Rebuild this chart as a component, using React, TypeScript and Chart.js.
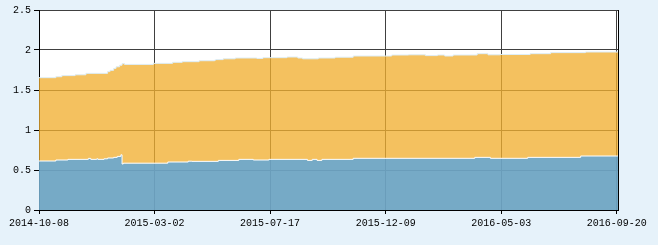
import React, { useEffect, useRef } from "react";
import { Chart, registerables } from "chart.js";

Chart.register(...registerables);

// x axis: trading-day index; labelled ticks
const xTickIndex = [0, 96, 192, 288, 384, 480];
const xTickLabels = ["2014-10-08", "2015-03-02", "2015-07-17", "2015-12-09", "2016-05-03", "2016-09-20"];
const xMaxIndex = 481;

// y axis tick values
const yTicks = [0, 0.5, 1, 1.5, 2, 2.5];

// Top of the yellow area (cumulative total) — change points [index, value]
const totalIdx = [0, 14, 19, 30, 39, 57, 59, 62, 64, 67, 69, 71, 95, 111, 119, 133, 146, 147, 153, 163, 181, 186, 206, 215, 219, 232, 246, 261, 293, 307, 321, 331, 337, 344, 364, 373, 383, 408, 425, 454, 481];
const totalVal = [1.654, 1.666, 1.68, 1.69, 1.708, 1.73, 1.746, 1.77, 1.79, 1.81, 1.83, 1.82, 1.833, 1.846, 1.854, 1.866, 1.875, 1.88, 1.89, 1.9, 1.895, 1.904, 1.9125, 1.9, 1.89, 1.9, 1.91, 1.925, 1.9375, 1.94, 1.93, 1.9375, 1.925, 1.9375, 1.954, 1.94, 1.944, 1.954, 1.967, 1.975, 1.975];

// Top of the blue area — change points [index, value]
const blueIdx = [0, 14, 24, 41, 43, 48, 49, 54, 57, 62, 65, 68, 69, 70, 107, 124, 127, 149, 166, 178, 191, 223, 227, 231, 235, 261, 362, 375, 406, 450, 481];
const blueVal = [0.6125, 0.625, 0.633, 0.645, 0.633, 0.64, 0.633, 0.64, 0.65, 0.658, 0.67, 0.69, 0.575, 0.585, 0.6, 0.61, 0.608, 0.62, 0.633, 0.625, 0.633, 0.62, 0.633, 0.62, 0.633, 0.646, 0.658, 0.646, 0.658, 0.675, 0.675];

const PAGE_BG = "#E6F2FA";

export default function App() {
  const ref = useRef<HTMLCanvasElement | null>(null);

  useEffect(() => {
    if (!ref.current) return;
    const bgPlugin = {
      id: "bgPlugin",
      beforeDraw(chart: any) {
        const { ctx, chartArea } = chart;
        ctx.save();
        ctx.fillStyle = PAGE_BG;
        ctx.fillRect(0, 0, chart.width, chart.height);
        ctx.fillStyle = "#ffffff";
        ctx.fillRect(chartArea.left, chartArea.top, chartArea.right - chartArea.left, chartArea.bottom - chartArea.top);
        ctx.restore();
      },
      afterDraw(chart: any) {
        const { ctx, chartArea } = chart;
        ctx.save();
        ctx.strokeStyle = "#000";
        ctx.lineWidth = 1;
        ctx.beginPath();
        ctx.moveTo(chartArea.right + 0.5, chartArea.top);
        ctx.lineTo(chartArea.right + 0.5, chartArea.bottom + 1);
        ctx.stroke();
        ctx.restore();
      },
    };

    const chart = new Chart(ref.current, {
      type: "line",
      data: {
        datasets: [
          {
            label: "blue",
            data: blueIdx.map((x, i) => ({ x, y: blueVal[i] })),
            stepped: true,
            borderColor: "#ffffff",
            borderWidth: 1,
            backgroundColor: "rgba(69,161,238,0.72)",
            fill: "origin",
            pointRadius: 0,
          },
          {
            label: "total",
            data: totalIdx.map((x, i) => ({ x, y: totalVal[i] })),
            stepped: true,
            borderColor: "#DDEEF8",
            borderWidth: 1,
            backgroundColor: "rgba(241,174,47,0.77)",
            fill: "origin",
            pointRadius: 0,
          },
        ],
      },
      options: {
        responsive: false,
        animation: false,
        devicePixelRatio: 1,
        layout: { padding: { left: 0, top: 10, right: 40, bottom: 0 } },
        plugins: { legend: { display: false }, tooltip: { enabled: false } },
        scales: {
          x: {
            type: "linear",
            min: 0,
            max: xMaxIndex,
            afterFit(s: any) {
              s.height = 35;
            },
            afterBuildTicks(axis: any) {
              axis.ticks = xTickIndex.map((v) => ({ value: v }));
            },
            grid: { color: "#404040", tickColor: "#000", tickLength: 4, lineWidth: 1 },
            border: { color: "#000", width: 1 },
            ticks: {
              autoSkip: false,
              maxRotation: 0,
              padding: 3,
              color: "#000",
              font: { family: "'Liberation Mono', monospace", size: 10 },
              callback: (v: any) => {
                const i = xTickIndex.indexOf(Number(v));
                return i >= 0 ? xTickLabels[i] : "";
              },
            },
          },
          y: {
            min: 0,
            max: 2.5,
            afterFit(s: any) {
              s.width = 39;
            },
            afterBuildTicks(axis: any) {
              axis.ticks = yTicks.map((v) => ({ value: v }));
            },
            grid: { color: "#404040", tickColor: "#000", tickLength: 5, lineWidth: 1 },
            border: { color: "#000", width: 1 },
            ticks: {
              padding: 3,
              color: "#000",
              font: { family: "'Liberation Mono', monospace", size: 10 },
              callback: (v: any) => String(Number(v)),
            },
          },
        },
      },
      plugins: [bgPlugin],
    });
    return () => chart.destroy();
  }, []);

  return (
    <div style={{ position: "fixed", left: 0, top: 0, width: 658, height: 245, background: PAGE_BG }}>
      <canvas ref={ref} width={658} height={245} style={{ display: "block", width: 658, height: 245 }} />
    </div>
  );
}
